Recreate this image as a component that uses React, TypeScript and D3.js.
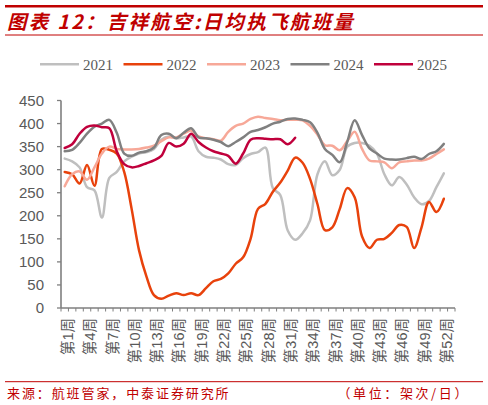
import * as d3 from "d3";
import React from "react";

// weekly flights per day, weeks 1..52
const s2021 = [
  324, 318, 305, 262, 255, 196, 282, 295, 318, 328, 335, 338, 345, 365, 372, 368, 370, 372, 340, 328,
  326, 322, 312, 310, 325, 334, 338, 348, 260, 245, 168, 148, 162, 190, 290, 318, 288, 300, 350, 358,
  358, 352, 335, 290, 266, 284, 268, 240, 225, 232, 262, 292,
];
const s2022 = [
  295, 290, 270, 310, 265, 345, 343, 335, 295, 215, 125, 68, 28, 20, 27, 32, 28, 32, 28, 43,
  58, 63, 75, 96, 110, 150, 215, 226, 252, 272, 298, 326, 315, 280, 225, 169, 175, 215, 260, 240,
  155, 130, 148, 150, 163, 180, 176, 130, 175, 230, 208, 237,
];
const s2023 = [
  264, 290, 296, 278, 305, 335, 350, 345, 344, 344, 345, 348, 352, 362, 370, 370, 378, 385, 372, 368,
  366, 363, 382, 395, 400, 410, 415, 412, 410, 407, 408, 408, 407, 395, 376, 353, 352, 342, 362, 382,
  345, 320, 318, 316, 303, 316, 318, 320, 320, 324, 334, 344,
];
const s2024 = [
  340, 343, 358, 378, 393, 400, 408, 380, 335, 330, 337, 340, 348, 375, 378, 368, 380, 390, 370, 368,
  365, 360, 351, 360, 370, 382, 386, 392, 400, 404, 410, 411, 408, 403, 380, 345, 332, 316, 360, 407,
  375, 346, 335, 324, 322, 322, 325, 328, 323, 334, 340, 356,
];
const s2025 = [
  347, 355, 378, 393, 396, 392, 390, 340, 312, 305, 308, 314, 320, 330, 358, 350, 356, 378, 360, 348,
  340, 335, 330, 313, 335, 365, 368, 367, 366, 366, 355, 369,
];

const years = ["2021", "2022", "2023", "2024", "2025"];
const yearValues = [s2021, s2022, s2023, s2024, s2025];
const yearColors = ["#bfbfbf", "#e8420c", "#f7a898", "#808080", "#c0003c"];

const weeks = d3.range(1, 54);
const categories = weeks.map((w) => `第${w}周`);
const labelWeeks = d3.range(1, 53, 3);
const yTicks = d3.range(0, 451, 50);

const W = 488;
const H = 405;
const sans = '"Liberation Sans", Arial, "Noto Sans CJK SC", sans-serif';
const cjk = '"Noto Sans CJK SC", "Liberation Sans", sans-serif';

export default function App() {
  const x = d3.scaleBand<string>().domain(categories).range([61, 455]);
  const y = d3.scaleLinear().domain([0, 450]).range([308, 100.5]);

  const line = d3
    .line<number>()
    .x((_, i) => (x(categories[i]) ?? 0) + x.bandwidth() / 2)
    .y((d) => y(d))
    .curve(d3.curveCatmullRom.alpha(0.5));

  const axisColor = "#7f7f7f";
  const textColor = "#595959";
  const red = "#c00000";

  return (
    <div style={{ position: "absolute", left: 0, top: 0, background: "#fff" }}>
      <svg width={W} height={H} style={{ display: "block" }}>
        <rect width={W} height={H} fill="#fff" />
        {/* title block */}
        <line x1={5} x2={483} y1={6.2} y2={6.2} stroke={red} strokeWidth={2.5} />
        <text
          x={7}
          y={29}
          fill={red}
          fontFamily={cjk}
          fontSize={19.5}
          fontWeight="bold"
          fontStyle="italic"
          letterSpacing={2.3}
        >
          图表 12：吉祥航空:日均执飞航班量
        </text>
        <line x1={5} x2={483} y1={35} y2={35} stroke={red} strokeWidth={1} />

        {/* legend */}
        {years.map((yr, i) => {
          const lx = 40 + i * 83.5;
          return (
            <g key={yr}>
              <line x1={lx} x2={lx + 39} y1={64.3} y2={64.3} stroke={yearColors[i]} strokeWidth={2.5} />
              <text
                x={lx + 43}
                y={69.5}
                fill={textColor}
                fontFamily='"Liberation Serif", "Times New Roman", serif'
                fontSize={15}
              >
                {yr}
              </text>
            </g>
          );
        })}

        {/* y axis */}
        <line x1={61} x2={61} y1={y(450)} y2={y(0)} stroke={axisColor} strokeWidth={1.6} />
        {yTicks.map((t) => (
          <g key={t}>
            <line x1={57} x2={61} y1={y(t)} y2={y(t)} stroke={axisColor} strokeWidth={1.3} />
            <text
              x={44}
              y={y(t)}
              dy="0.36em"
              textAnchor="end"
              fill={textColor}
              fontFamily={sans}
              fontSize={15}
            >
              {t}
            </text>
          </g>
        ))}

        {/* x axis */}
        <line x1={61} x2={455} y1={y(0)} y2={y(0)} stroke={axisColor} strokeWidth={1.6} />
        {d3.range(0, categories.length + 1).map((i) => {
          const tx = 61 + i * x.step();
          return (
            <line key={i} x1={tx} x2={tx} y1={y(0)} y2={y(0) + 3.5} stroke={axisColor} strokeWidth={1} />
          );
        })}
        {labelWeeks.map((w) => {
          const cx = (x(categories[w - 1]) ?? 0) + x.bandwidth() / 2 + 3;
          return (
            <text
              key={w}
              transform={`translate(${cx},318) rotate(-90)`}
              dy="0.36em"
              textAnchor="end"
              fill={textColor}
              fontFamily={sans}
              fontSize={14.5}
            >
              {categories[w - 1]}
            </text>
          );
        })}

        {/* series */}
        {yearValues.map((vals, i) => (
          <path
            key={years[i]}
            d={line(vals) ?? ""}
            fill="none"
            stroke={yearColors[i]}
            strokeWidth={2.5}
            strokeLinejoin="round"
            strokeLinecap="round"
          />
        ))}

        {/* footer */}
        <line x1={5} x2={483} y1={381.7} y2={381.7} stroke={red} strokeWidth={1} />
        <text x={7} y={397.5} fill={red} fontFamily={cjk} fontSize={13} letterSpacing={1.9}>
          来源：航班管家，中泰证券研究所
        </text>
        <text x={470} y={397.5} textAnchor="end" fill={red} fontFamily={cjk} fontSize={13} letterSpacing={2.6}>
          （单位：架次/日）
        </text>
      </svg>
    </div>
  );
}
